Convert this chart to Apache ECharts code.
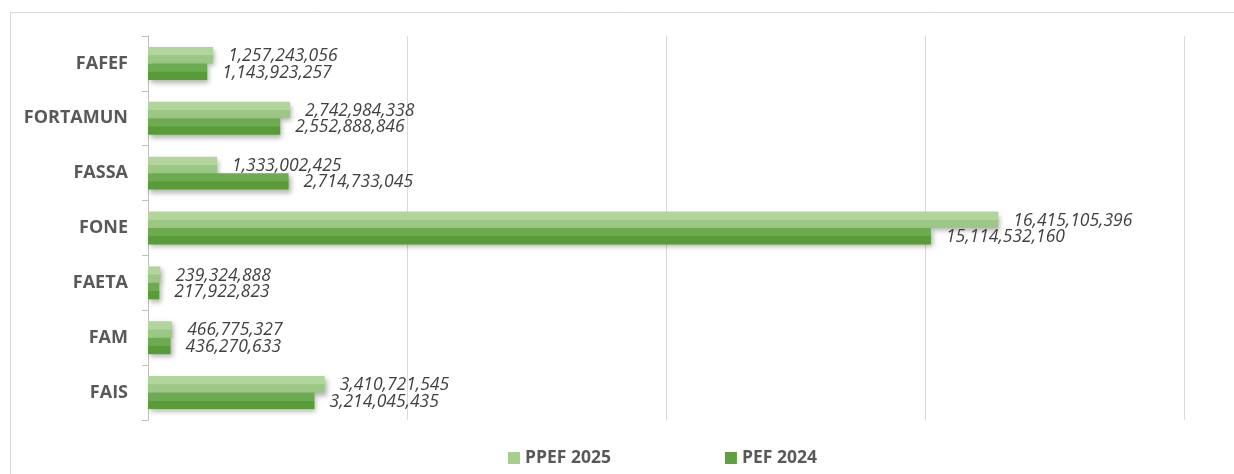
<!DOCTYPE html>
<html>
<head>
<meta charset="utf-8">
<script src="https://cdn.jsdelivr.net/npm/echarts@6/dist/echarts.min.js"></script>
<style>
  html, body { margin: 0; padding: 0; background: #fff; }
  #chart { width: 1234px; height: 474px; }
</style>
</head>
<body>
<div id="chart"></div>
<script>
const categories = ['FAFEF', 'FORTAMUN', 'FASSA', 'FONE', 'FAETA', 'FAM', 'FAIS']
const ppef2025 = [1257243056, 2742984338, 1333002425, 16415105396, 239324888, 466775327, 3410721545]
const pef2024 = [1143923257, 2552888846, 2714733045, 15114532160, 217922823, 436270633, 3214045435]
const seriesNames = ['PPEF 2025', 'PEF 2024']

const chart = echarts.init(document.getElementById('chart'), null, { renderer: 'canvas' })

const fmt = v => v.toLocaleString('en-US')

// two-tone fill, lighter upper half
function grad(top, bottom) {
  return new echarts.graphic.LinearGradient(0, 0, 0, 1, [
    { offset: 0, color: top },
    { offset: 0.48, color: top },
    { offset: 0.52, color: bottom },
    { offset: 1, color: bottom }
  ])
}

const labelStyle = {
  show: true,
  position: 'right',
  distance: 15,
  offset: [0, 1],
  fontFamily: 'Open Sans',
  fontStyle: 'italic',
  fontSize: 17.5,
  color: '#404040',
  formatter: p => fmt(p.value)
}

const barShadow = {
  shadowColor: 'rgba(0,0,0,0.3)',
  shadowBlur: 5,
  shadowOffsetX: 2,
  shadowOffsetY: 3
}

const option = {
  animation: false,
  graphic: [{
    type: 'rect',
    left: 8,
    top: 10,
    shape: { width: 1224, height: 470 },
    style: { fill: 'none', stroke: '#d9d9d9', lineWidth: 1 },
    silent: true
  }],
  grid: { left: 148, right: 50, top: 36, bottom: 54 },
  legend: {
    bottom: 2,
    left: 503,
    itemGap: 114,
    itemWidth: 12,
    itemHeight: 12,
    icon: 'rect',
    textStyle: { fontFamily: 'Open Sans', fontWeight: 'bold', fontSize: 17.5, color: '#595959' },
    data: [
      { name: seriesNames[0], itemStyle: { color: '#a6cf8e', shadowBlur: 0, shadowOffsetX: 0, shadowOffsetY: 0 } },
      { name: seriesNames[1], itemStyle: { color: '#619f42', shadowBlur: 0, shadowOffsetX: 0, shadowOffsetY: 0 } }
    ]
  },
  xAxis: {
    type: 'value',
    min: 0,
    max: 20000000000,
    interval: 5000000000,
    axisLabel: { show: false },
    axisLine: { show: false },
    axisTick: { show: false },
    splitLine: { lineStyle: { color: '#d9d9d9', width: 1 } }
  },
  yAxis: {
    type: 'category',
    data: categories,
    inverse: true,
    axisLine: { lineStyle: { color: '#bfbfbf' } },
    axisTick: { show: true, length: 6, lineStyle: { color: '#bfbfbf' } },
    axisLabel: {
      margin: 20,
      fontFamily: 'Open Sans',
      fontWeight: 'bold',
      fontSize: 18,
      color: '#595959'
    }
  },
  series: [
    {
      name: seriesNames[0],
      type: 'bar',
      data: ppef2025,
      barGap: '0%',
      barCategoryGap: '40%',
      itemStyle: Object.assign({ color: grad('#b2d59c', '#9dc785') }, barShadow),
      label: labelStyle
    },
    {
      name: seriesNames[1],
      type: 'bar',
      data: pef2024,
      itemStyle: Object.assign({ color: grad('#6cab50', '#5a9b39') }, barShadow),
      label: labelStyle
    }
  ]
}

chart.setOption(option)
</script>
</body>
</html>
